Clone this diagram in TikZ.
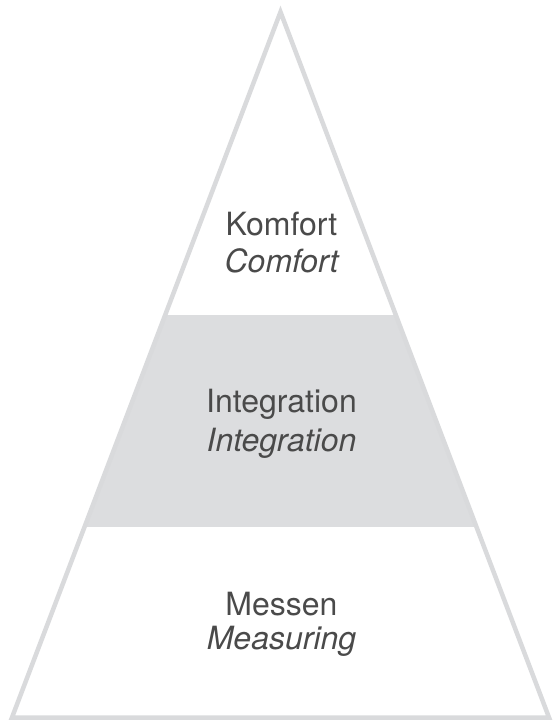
\documentclass[tikz,border=0pt]{standalone}
\usepackage{fontspec}
\setmainfont{TeX Gyre Heros}
\usepackage{tikz}
\usetikzlibrary{positioning, calc}
\definecolor{pyrline}{HTML}{D9DADC}
\definecolor{pyrfill}{HTML}{DCDDDF}
\definecolor{pyrtext}{HTML}{4A4A4A}
\tikzset{
    levelname/.style = {inner sep=0pt, anchor=base, text=pyrtext,
        font=\fontsize{32}{37}\selectfont},
    leveltrans/.style = {levelname, font=\fontsize{32}{37}\selectfont\itshape},
}

\begin{document}
\begin{tikzpicture}[x=1pt,y=-1pt]
        \useasboundingbox (0,0) rectangle (554,722);
        \coordinate (apex) at (280.5,12);
        \coordinate (left) at (12,717.5);
        \coordinate (right) at (549,717.5);
        % middle band
        \begin{scope}
            \clip (apex) -- (left) -- (right) -- cycle;
            \fill [pyrfill] (0,315) rectangle (554,527);
        \end{scope}
        \draw [pyrline, line width=4.5pt, line join=miter] (apex) -- (left) -- (right) -- cycle;
        % labels
        \node (komfort) [levelname] at (281.5,235) {Komfort};
        \node (comfort) [leveltrans] at (281.5,272) {Comfort};
        \node (integ) [levelname] at (281.5,412) {Integration};
        \node (integtr) [leveltrans] at (281.5,451) {Integration};
        \node (messen) [levelname] at (281.5,615) {Messen};
        \node (measuring) [leveltrans] at (281.5,649) {Measuring};
\end{tikzpicture}
\end{document}
